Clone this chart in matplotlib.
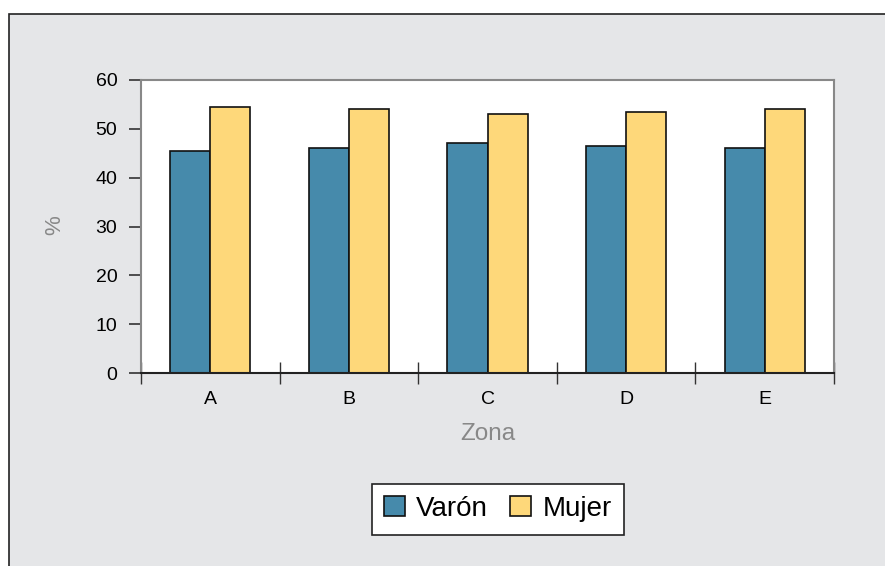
import matplotlib.pyplot as plt
from matplotlib.patches import Rectangle
import numpy as np

plt.rcParams['font.family'] = ['Liberation Sans', 'DejaVu Sans']

zonas = ['A', 'B', 'C', 'D', 'E']
varon = [45.5, 46.0, 47.0, 46.5, 46.0]
mujer = [54.5, 54.0, 53.0, 53.5, 54.0]

fig = plt.figure(figsize=(8.85, 5.66), dpi=100)
fig.patch.set_facecolor('white')

# grey panel with frame on top and left
W, H = 885, 566
panel = Rectangle((9 / W, -0.1), 1.2, (H - 14) / H + 0.1, transform=fig.transFigure,
                  facecolor='#e5e6e8', edgecolor='#222222', lw=1.2, zorder=-1)
fig.patches.append(panel)

ax = fig.add_axes([141 / W, (H - 373) / H, (834 - 141) / W, (373 - 80) / H])
ax.set_facecolor('white')

x = np.arange(len(zonas)) + 0.5
w = 0.29
ax.bar(x - w / 2, varon, w, color='#468aab', edgecolor='#111111', lw=1.2, label='Varón', zorder=2)
ax.bar(x + w / 2, mujer, w, color='#fed87a', edgecolor='#111111', lw=1.2, label='Mujer', zorder=2)

ax.set_xlim(0, len(zonas))
ax.set_ylim(0, 60)
ax.set_yticks(range(0, 61, 10))
ax.set_xticks(x)
ax.set_xticklabels(zonas)
ax.set_xticks(np.arange(len(zonas) + 1), minor=True)
ax.tick_params(axis='x', which='major', length=0, pad=13, labelsize=14)
ax.tick_params(axis='x', which='minor', direction='inout', length=16, width=1, color='#333333')
ax.tick_params(axis='y', direction='out', length=9, width=1.2, color='#333333', pad=8, labelsize=14)

for s in ['top', 'right', 'left']:
    ax.spines[s].set_color('#888888')
    ax.spines[s].set_linewidth(1.5)
ax.spines['bottom'].set_color('#222222')
ax.spines['bottom'].set_linewidth(1.5)

ax.set_xlabel('Zona', color='#888888', fontsize=17.5, labelpad=11)
fig.text(55 / W, (H - 225) / H, '%', color='#888888', fontsize=16, rotation=90,
         ha='center', va='center')

leg = fig.legend(loc='center', bbox_to_anchor=(498 / W, (H - 509) / H), ncol=2,
                 fontsize=20, frameon=True, fancybox=False, edgecolor='#222222',
                 framealpha=1, handlelength=0.75, handleheight=0.75, handletextpad=0.4,
                 columnspacing=0.8, borderpad=0.45)
leg.get_frame().set_linewidth(1.2)

fig.savefig('out.png', dpi=100)
